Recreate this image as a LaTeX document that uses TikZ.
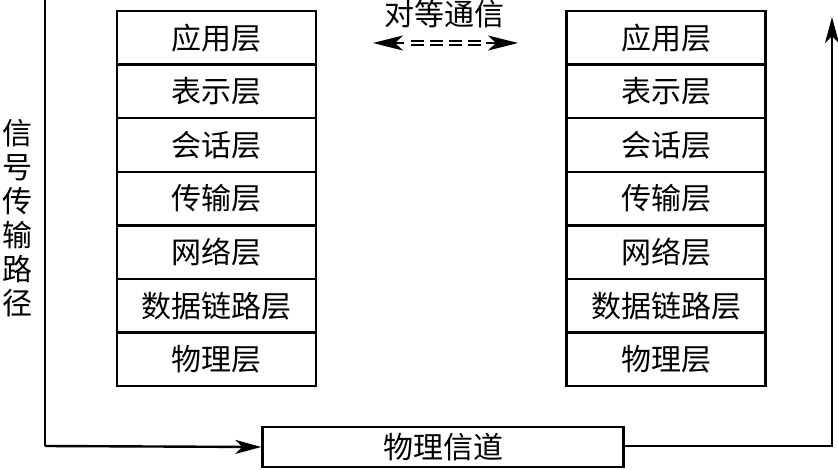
\documentclass[tikz,border=0pt]{standalone}
\usepackage{fontspec}
\setmainfont{Noto Sans CJK SC}
\usetikzlibrary{arrows.meta}
\tikzset{
  layer/.style={draw, line width=2.4pt, minimum width=199pt, minimum height=53.6pt, inner sep=0pt, font=\fontsize{30}{32}\selectfont},
  wire/.style={line width=2.4pt},
  tip/.style={-{Stealth[length=26pt,width=14pt,inset=7pt]}},
  peertip/.style={-{Stealth[length=30pt,width=15pt,inset=8pt]}}
}
\begin{document}
\begin{tikzpicture}[x=1pt,y=-1pt]
\useasboundingbox (0,0) rectangle (838,470);
\foreach \t [count=\i] in {应用层,表示层,会话层,传输层,网络层,数据链路层,物理层}{
  \node[layer] (L\i) at (216.5, {11+53.6*(\i-0.5)}) {\t};
  \node[layer] (R\i) at (666, {11+53.6*(\i-0.5)}) {\t};
}
\node[draw, line width=2.4pt, minimum width=361pt, minimum height=40pt, inner sep=0pt, font=\fontsize{30}{32}\selectfont] (ch) at (443,447) {物理信道};
\coordinate (ltop) at (45,0);
\coordinate (lbot) at (45,446);
\coordinate (rbot) at (832,446);
\coordinate (rtop) at (832,17);
\draw[wire] (ltop) -- (lbot);
\draw[wire, tip] (lbot) -- (ch.west);
\draw[wire, tip] (ch.east) |- (rbot) -- (rtop);
% peer
\node[font=\fontsize{30}{32}\selectfont, inner sep=0pt] (peer) at (444,14) {对等通信};
\coordinate (pa) at (373,43);
\coordinate (pa2) at (404,43);
\coordinate (pb2) at (486,43);
\coordinate (pb) at (518,43);
\coordinate (da) at (411,43);
\coordinate (db) at (481,43);
\draw[line width=1.6pt, double, double distance=2.4pt, dash pattern=on 13pt off 6pt] (da) -- (db);
\draw[line width=2pt, peertip] (pa2) -- (pa);
\draw[line width=2pt, peertip] (pb2) -- (pb);
% vertical label
\node[font=\fontsize{30}{34}\selectfont, align=center, inner sep=0pt] (sig) at (17,218) {信\\号\\传\\输\\路\\径};
\end{tikzpicture}
\end{document}
